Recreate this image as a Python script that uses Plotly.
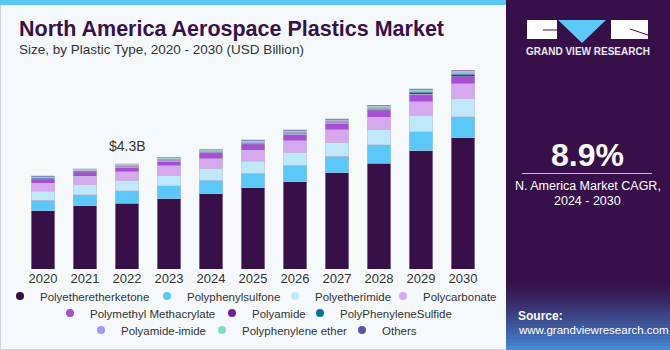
import plotly.graph_objects as go

years = ["2020", "2021", "2022", "2023", "2024", "2025", "2026", "2027", "2028", "2029", "2030"]

peek = [2.38, 2.58, 2.69, 2.86, 3.07, 3.31, 3.56, 3.93, 4.31, 4.82, 5.36]
ppsu = [0.42, 0.46, 0.50, 0.53, 0.56, 0.60, 0.67, 0.68, 0.76, 0.79, 0.86]
pei = [0.37, 0.40, 0.41, 0.42, 0.46, 0.49, 0.52, 0.54, 0.61, 0.65, 0.73]
pc = [0.33, 0.34, 0.38, 0.41, 0.42, 0.45, 0.49, 0.53, 0.52, 0.57, 0.61]
pmma = [0.15, 0.16, 0.18, 0.19, 0.20, 0.23, 0.26, 0.27, 0.26, 0.30, 0.30]
polyamide = [0.04, 0.04, 0.04, 0.04, 0.05, 0.05, 0.05, 0.05, 0.06, 0.06, 0.07]
pps = [0.03, 0.03, 0.02, 0.03, 0.03, 0.03, 0.03, 0.03, 0.04, 0.04, 0.05]
pai = [0.03, 0.03, 0.03, 0.03, 0.04, 0.04, 0.04, 0.04, 0.05, 0.05, 0.06]
ppe = [0.025, 0.025, 0.025, 0.025, 0.03, 0.035, 0.03, 0.03, 0.04, 0.04, 0.04]
others = [0.025, 0.025, 0.025, 0.025, 0.03, 0.035, 0.03, 0.03, 0.04, 0.04, 0.04]

series_names = ["Polyetheretherketone", "Polyphenylsulfone", "Polyetherimide", "Polycarbonate",
                "Polymethyl Methacrylate", "Polyamide", "PolyPhenyleneSulfide",
                "Polyamide-imide", "Polyphenylene ether", "Others"]
series_values = [peek, ppsu, pei, pc, pmma, polyamide, pps, pai, ppe, others]
series_colors = ["#371047", "#5bc8f7", "#bfe9fa", "#d6a9ee", "#a64fd6", "#6b2192",
                 "#0b7299", "#9b9cf6", "#7fdcc9", "#5856a8"]
legend_rows = ["legend", "legend", "legend", "legend", "legend2", "legend2", "legend2",
               "legend3", "legend3", "legend3"]
legend_widths = [102, 83, 63, 75, 117, 43, 107, 76, 95, 34]

total_label = "$4.3B"
total_label_year = "2022"

FONT = "Liberation Sans, Arial, sans-serif"
BG = "#f5f9fc"

# layout geometry (pixels)
W, H = 670, 350
MT, MB = 60, 81
PH = H - MT - MB
X0, X1 = 22, 484  # plot x extent in pixels


def px(x):
    return x / W


def py(y):
    return (H - MB - y) / PH


def cy(y):
    return (H - y) / H


fig = go.Figure()
for name, vals, col in zip(series_names, series_values, series_colors):
    fig.add_trace(go.Bar(x=years, y=vals, name=name,
                         marker=dict(color=col, line=dict(color="rgba(190,190,210,0.7)", width=0.7)),
                         showlegend=False, hoverinfo="x+y+name"))
for name, col, lg, lw in zip(series_names, series_colors, legend_rows, legend_widths):
    fig.add_trace(go.Scatter(x=[None], y=[None], mode="markers", name=name, legend=lg, legendwidth=lw,
                             marker=dict(symbol="circle", size=8, color=col), showlegend=True))

totals = [sum(v[i] for v in series_values) for i in range(len(years))]
ymax = PH / 24.49
label_idx = years.index(total_label_year)

shapes = []
# card border
shapes.append(dict(type="rect", xref="paper", yref="paper", x0=px(0.5), x1=px(510), y0=py(349.5), y1=py(0.5),
                   line=dict(color="#d0d4d8", width=1), fillcolor=BG, layer="below"))
# top cyan stripe
shapes.append(dict(type="rect", xref="paper", yref="paper", x0=px(0), x1=px(506), y0=py(5), y1=py(0),
                   line=dict(width=0), fillcolor="#5bc8f2", layer="below"))
# right panel
shapes.append(dict(type="rect", xref="paper", yref="paper", x0=px(506), x1=px(670), y0=py(350), y1=py(0),
                   line=dict(width=0), fillcolor="#37104a", layer="below"))
# gradient at bottom of right panel
n = 24
c0 = (0x37, 0x10, 0x4a)
c1 = (0x45, 0x8c, 0xd8)
y_start, y_end = 280, 350
for i in range(n):
    t = (i + 0.5) / n
    t2 = t ** 1.3
    c = tuple(int(c0[k] + (c1[k] - c0[k]) * t2) for k in range(3))
    ya = y_start + (y_end - y_start) * i / n
    yb = y_start + (y_end - y_start) * (i + 1) / n
    shapes.append(dict(type="rect", xref="paper", yref="paper", x0=px(506), x1=px(670), y0=py(yb + 0.5), y1=py(ya),
                       line=dict(width=0), fillcolor="rgb(%d,%d,%d)" % c, layer="below"))
# logo
shapes.append(dict(type="rect", xref="paper", yref="paper", x0=px(527), x1=px(557), y0=py(39), y1=py(20),
                   line=dict(width=0), fillcolor="white"))
shapes.append(dict(type="path", xref="paper", yref="paper",
                   path="M %f,%f L %f,%f L %f,%f Z" % (px(558), py(20), px(606), py(20), px(582), py(43)),
                   line=dict(width=0), fillcolor="#5bc8f5"))
shapes.append(dict(type="rect", xref="paper", yref="paper", x0=px(611), x1=px(648), y0=py(39), y1=py(20),
                   line=dict(width=0), fillcolor="white"))
shapes.append(dict(type="line", xref="paper", yref="paper", x0=px(543), x1=px(557), y0=py(30), y1=py(30),
                   line=dict(color="#37104a", width=1)))
shapes.append(dict(type="line", xref="paper", yref="paper", x0=px(630), x1=px(648), y0=py(29), y1=py(35),
                   line=dict(color="#37104a", width=1)))
# divider line under CAGR
shapes.append(dict(type="line", xref="paper", yref="paper", x0=px(522), x1=px(652), y0=py(173.5), y1=py(173.5),
                   line=dict(color="#c9bfd0", width=1)))

annotations = [
    dict(text="<b>North America Aerospace Plastics Market</b>", x=px(17), y=py(29), xref="paper", yref="paper",
         xanchor="left", yanchor="middle", showarrow=False, font=dict(family=FONT, size=21.5, color="#3a1048")),
    dict(text="Size, by Plastic Type, 2020 - 2030 (USD Billion)", x=px(17), y=py(49), xref="paper", yref="paper",
         xanchor="left", yanchor="middle", showarrow=False, font=dict(family=FONT, size=13.5, color="#333333")),
    dict(text=total_label, x=label_idx, y=totals[label_idx], xref="x", yref="y",
         xanchor="center", yanchor="bottom", yshift=8, showarrow=False, font=dict(family=FONT, size=14, color="#333333")),
    dict(text="<b>GRAND VIEW RESEARCH</b>", x=px(587.5), y=py(51), xref="paper", yref="paper",
         xanchor="center", yanchor="middle", showarrow=False, font=dict(family=FONT, size=10, color="#e8e8f0")),
    dict(text="<b>8.9%</b>", x=px(587.5), y=py(155), xref="paper", yref="paper",
         xanchor="center", yanchor="middle", showarrow=False, font=dict(family=FONT, size=32, color="white")),
    dict(text="N. America Market CAGR,", x=px(587.5), y=py(186), xref="paper", yref="paper",
         xanchor="center", yanchor="middle", showarrow=False, font=dict(family=FONT, size=12.5, color="white")),
    dict(text="2024 - 2030", x=px(587.5), y=py(201), xref="paper", yref="paper",
         xanchor="center", yanchor="middle", showarrow=False, font=dict(family=FONT, size=12.5, color="white")),
    dict(text="<b>Source:</b>", x=px(516), y=py(316), xref="paper", yref="paper",
         xanchor="left", yanchor="middle", showarrow=False, font=dict(family=FONT, size=12, color="white")),
    dict(text="www.grandviewresearch.com", x=px(516), y=py(330), xref="paper", yref="paper",
         xanchor="left", yanchor="middle", showarrow=False, font=dict(family=FONT, size=11.5, color="white")),
]

leg_common = dict(orientation="h", xref="container", yref="container", xanchor="left", yanchor="middle",
                  bgcolor="rgba(0,0,0,0)", font=dict(family=FONT, size=11.5, color="#333333"),
                  itemwidth=30, tracegroupgap=0, traceorder="normal", borderwidth=0)

fig.update_layout(
    width=W, height=H,
    margin=dict(l=0, r=0, t=MT, b=MB, pad=0, autoexpand=False),
    paper_bgcolor=BG, plot_bgcolor="rgba(0,0,0,0)",
    barmode="stack", bargap=0.43,
    font=dict(family=FONT, color="#333333"),
    xaxis=dict(type="category", categoryarray=years, range=[-0.5, len(years) - 0.5],
               domain=[X0 / W, X1 / W], showgrid=False, showline=False, zeroline=False, ticks="",
               tickfont=dict(size=13, color="#333333"), fixedrange=True),
    yaxis=dict(range=[0, ymax], visible=False, fixedrange=True),
    shapes=shapes,
    annotations=annotations,
    legend=dict(x=px(0), y=cy(296), **leg_common),
    legend2=dict(x=px(50), y=cy(313), **leg_common),
    legend3=dict(x=px(81), y=cy(330), **leg_common),
)

fig.write_html("out.html")
